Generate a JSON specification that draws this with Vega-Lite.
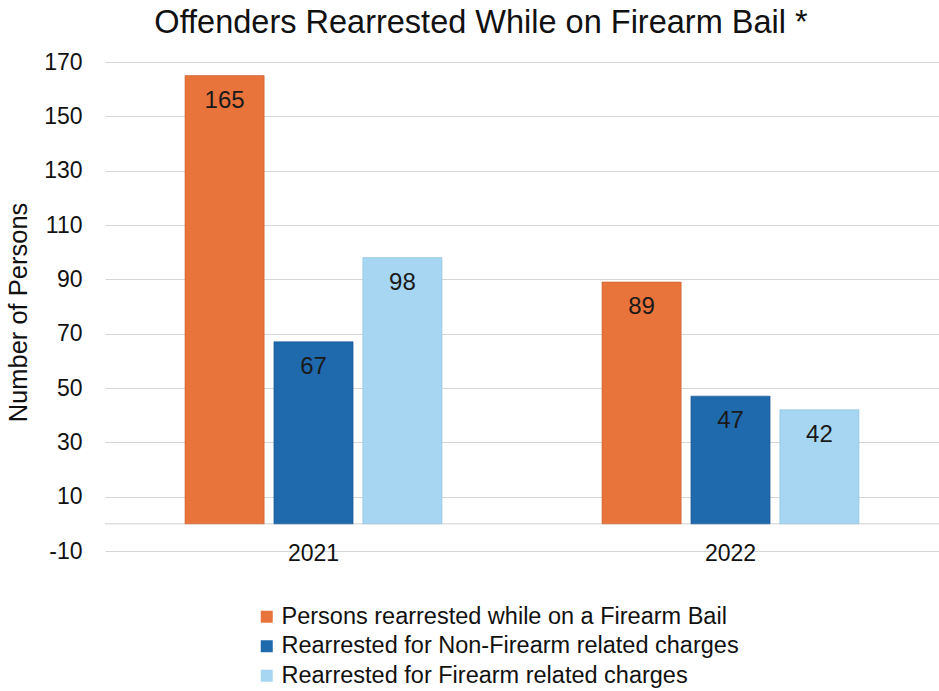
{
  "$schema": "https://vega.github.io/schema/vega-lite/v6.json",
  "width": 834,
  "height": 489,
  "autosize": {"type": "none"},
  "padding": {"left": 105, "top": 62, "right": 0, "bottom": 140},
  "background": "white",
  "config": {
    "font": "Liberation Sans",
    "view": {"stroke": null}
  },
  "title": {
    "text": "Offenders Rearrested While on Firearm Bail *",
    "fontSize": 32.5,
    "fontWeight": "normal",
    "color": "#111",
    "anchor": "middle",
    "dx": -41,
    "offset": 12
  },
  "data": {
    "values": [
      {"year": "2021", "series": "Persons rearrested while on a Firearm Bail", "value": 165},
      {"year": "2021", "series": "Rearrested for Non-Firearm related charges", "value": 67},
      {"year": "2021", "series": "Rearrested for Firearm related charges", "value": 98},
      {"year": "2022", "series": "Persons rearrested while on a Firearm Bail", "value": 89},
      {"year": "2022", "series": "Rearrested for Non-Firearm related charges", "value": 47},
      {"year": "2022", "series": "Rearrested for Firearm related charges", "value": 42}
    ]
  },
  "encoding": {
    "x": {
      "field": "year",
      "type": "nominal",
      "scale": {"paddingInner": 0, "paddingOuter": 0},
      "axis": {
        "title": null,
        "labelAngle": 0,
        "labelFontSize": 23,
        "labelColor": "#111",
        "labelBaseline": "middle",
        "labelPadding": 2,
        "ticks": false,
        "domain": false
      }
    },
    "xOffset": {
      "field": "series",
      "type": "nominal",
      "sort": [
        "Persons rearrested while on a Firearm Bail",
        "Rearrested for Non-Firearm related charges",
        "Rearrested for Firearm related charges"
      ],
      "scale": {"paddingInner": 0.11, "paddingOuter": 0.9}
    },
    "y": {
      "field": "value",
      "type": "quantitative",
      "scale": {"domain": [-10, 170], "nice": false, "zero": false},
      "axis": {
        "title": "Number of Persons",
        "titleFontSize": 25.5,
        "titleFontWeight": "normal",
        "titleColor": "#111",
        "titleX": -87,
        "titleY": 250,
        "titleBaseline": "middle",
        "values": [-10, 10, 30, 50, 70, 90, 110, 130, 150, 170],
        "labelExpr": "'' + datum.value",
        "labelFontSize": 23,
        "labelColor": "#111",
        "labelPadding": 23,
        "ticks": false,
        "domain": false,
        "gridColor": "#d6d6d6",
        "gridWidth": 1
      }
    }
  },
  "layer": [
    {
      "data": {"values": [{"v": 0}]},
      "mark": {"type": "rule", "color": "#d0d0d0", "strokeWidth": 1},
      "encoding": {
        "x": null,
        "xOffset": null,
        "y": {"field": "v", "type": "quantitative"}
      }
    },
    {
      "mark": {"type": "bar", "strokeWidth": 1, "strokeOpacity": 0.6},
      "encoding": {
        "color": {
          "field": "series",
          "type": "nominal",
          "sort": [
            "Persons rearrested while on a Firearm Bail",
            "Rearrested for Non-Firearm related charges",
            "Rearrested for Firearm related charges"
          ],
          "scale": {
            "domain": [
              "Persons rearrested while on a Firearm Bail",
              "Rearrested for Non-Firearm related charges",
              "Rearrested for Firearm related charges"
            ],
            "range": ["#E8733B", "#1F69AD", "#A6D6F1"]
          },
          "legend": {
            "title": null,
            "orient": "none",
            "legendX": 150,
            "legendY": 543,
            "direction": "vertical",
            "symbolType": "square",
            "symbolSize": 144,
            "symbolStrokeWidth": 0,
            "labelFontSize": 23.5,
            "labelColor": "#111",
            "labelLimit": 700,
            "labelOffset": 3,
            "rowPadding": 4.5
          }
        },
        "stroke": {
          "field": "series",
          "type": "nominal",
          "scale": {
            "domain": [
              "Persons rearrested while on a Firearm Bail",
              "Rearrested for Non-Firearm related charges",
              "Rearrested for Firearm related charges"
            ],
            "range": ["#C85E2C", "#17548C", "#8EC2DE"]
          },
          "legend": null
        }
      }
    },
    {
      "mark": {"type": "text", "baseline": "middle", "dy": 25, "fontSize": 24, "color": "#1a1a1a"},
      "encoding": {
        "text": {"field": "value", "type": "quantitative"}
      }
    }
  ]
}
